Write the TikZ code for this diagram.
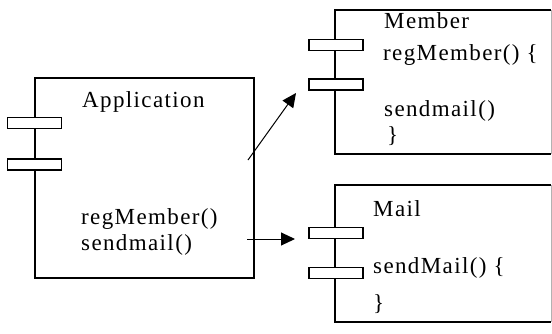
\documentclass[tikz,border=0pt]{standalone}
\usepackage{fontspec}
\setmainfont{Liberation Serif}
\newfontfamily\lbl[LetterSpace=6]{Liberation Serif}
\usetikzlibrary{arrows.meta}
\begin{document}
\begin{tikzpicture}[x=1pt,y=-1pt,
  tab/.style={draw,fill=white,line width=1.3pt,inner sep=0pt,minimum width=54pt,minimum height=11pt},
  txt/.style={anchor=base west,inner sep=0pt,font=\lbl\fontsize{23}{26}\selectfont},
  call/.style={line width=1pt,-{Triangle[length=14pt,width=13pt]}}]
\useasboundingbox (0,0) rectangle (552,333);

% Application component
\node[draw,line width=1.3pt,minimum width=219pt,minimum height=200pt,inner sep=0pt] (app) at (144.5,178) {};
\node[tab] (apptab1) at (34.5,123) {};
\node[tab] (apptab2) at (34.5,164.5) {};
\node[txt] (appname) at (82,107) {Application};
\node[txt] (appreg) at (81,224) {regMember()};
\node[txt] (appsend) at (81,250) {sendmail()};

% Member component (right side runs off the edge)
\coordinate (memNW) at (335,10);
\coordinate (memSW) at (335,154);
\coordinate (memNE) at (551,10);
\coordinate (memSE) at (551,154);
\draw[line width=1.3pt] (memNE) -- (memNW) -- (memSW) -- (memSE);
\draw[line width=0.8pt,gray!60] (memNE) -- (memSE);
\node[tab] (memtab1) at (336,45) {};
\node[tab] (memtab2) at (336,84.5) {};
\node[txt] (memname) at (384,28) {Member};
\node[txt] (memreg) at (383,60) {regMember() \{};
\node[txt] (memsend) at (384,116) {sendmail()};
\node[txt] (memend) at (387,142) {\}};

% Mail component
\coordinate (mailNW) at (335,185);
\coordinate (mailSW) at (335,322);
\coordinate (mailNE) at (551,185);
\coordinate (mailSE) at (551,322);
\draw[line width=1.3pt] (mailNE) -- (mailNW) -- (mailSW) -- (mailSE);
\draw[line width=0.8pt,gray!60] (mailNE) -- (mailSE);
\node[tab] (mailtab1) at (336,233) {};
\node[tab] (mailtab2) at (336,273) {};
\node[txt] (mailname) at (373,216) {Mail};
\node[txt] (mailsend) at (373,273) {sendMail() \{};
\node[txt] (mailend) at (373,310) {\}};

% Calls between the components
\coordinate (c1s) at (248,160);
\coordinate (c1e) at (296,93);
\coordinate (c2s) at (247,239);
\coordinate (c2e) at (295,239);
\draw[call] (c1s) -- (c1e);
\draw[call] (c2s) -- (c2e);
\end{tikzpicture}
\end{document}
